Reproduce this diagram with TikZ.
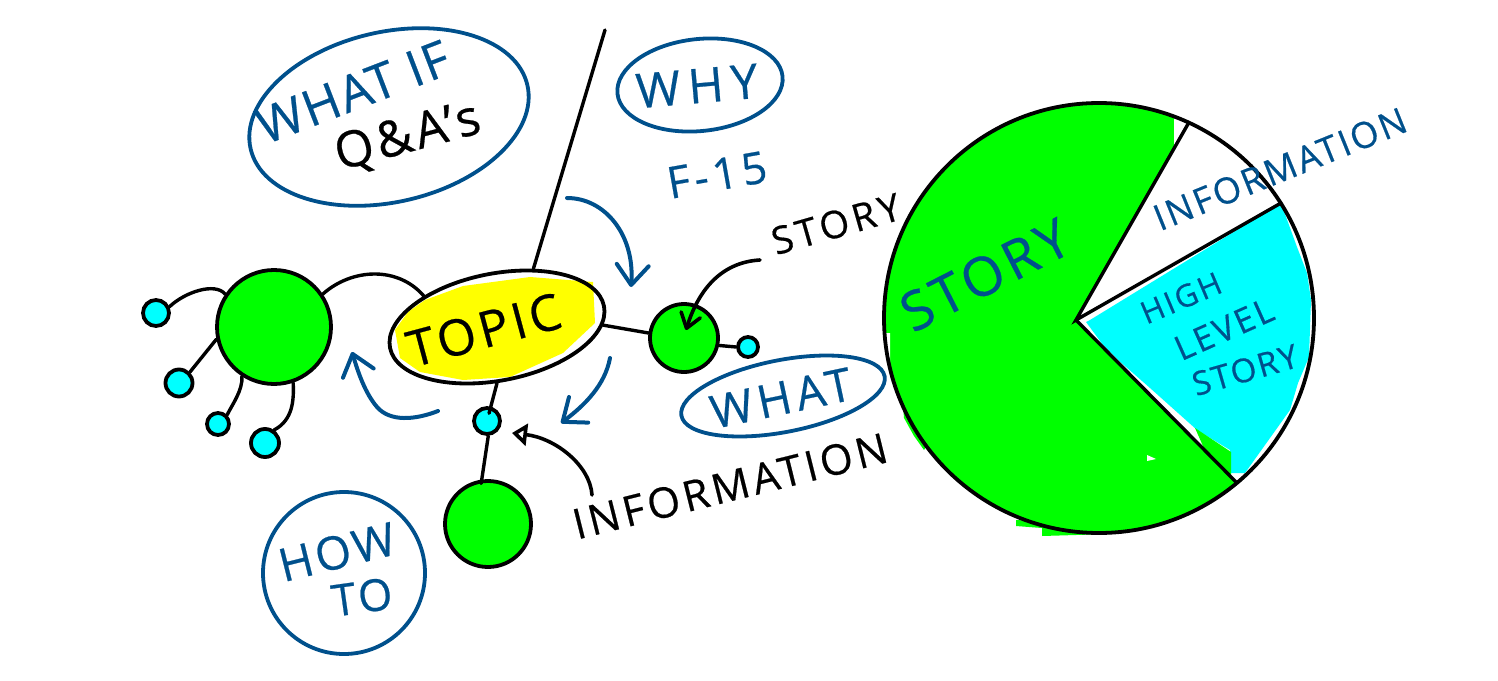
\documentclass[tikz,border=0pt]{standalone}
\usepackage{fontspec}
\setmainfont{Open Sans}
\usetikzlibrary{shapes.geometric,arrows.meta}
\definecolor{inkblue}{HTML}{00508C}
\definecolor{pgreen}{HTML}{00FF00}
\definecolor{pcyan}{HTML}{00FFFF}
\definecolor{pyellow}{HTML}{FFFF00}
\newcommand{\handfont}[2]{\fontsize{#1}{#1}\selectfont\addfontfeature{LetterSpace=#2,FakeBold=0.5}}
\tikzset{
  outline/.style={draw=#1,line width=3.8pt,shape=ellipse,inner sep=0pt},
  bigdot/.style={circle,draw=black,line width=3.8pt,fill=pgreen,inner sep=0pt,minimum size=#1},
  smalldot/.style={circle,draw=black,line width=3.8pt,fill=pcyan,inner sep=0pt,minimum size=#1},
  wire/.style={draw=black,line width=3.4pt,line cap=round},
  pointer/.style={draw=black,line width=3.6pt,line cap=round},
  flow/.style={draw=inkblue,line width=4pt,line cap=round,-{Straight Barb[round,length=20pt,width=32pt]}},
  hand/.style={inner sep=0pt,text=#1},
}
\begin{document}
\begin{tikzpicture}[x=1pt,y=-1pt]
\useasboundingbox (0,0) rectangle (1498,680);
% pie
\coordinate (pc) at (1076,320);
\coordinate (pa) at (1188,124);
\coordinate (pb) at (1281,203);
\coordinate (pd) at (1236,482);
\fill[pgreen] (1099,318) circle[radius=214];
\fill[pgreen] (1016,520) -- (1016,526) -- (1042,528) -- (1042,536) -- (1110,534) -- (1110,525) -- cycle;
\fill[pgreen] (903,405) -- (904,418) -- (914,436) -- (924,450) -- (930,440) -- cycle;
\fill[white] (pc) -- (pa) -- (1190,95) -- (1330,95) -- (1330,490) -- (pd) -- cycle;
\fill[white] (1174,100) -- (1190,100) -- (pa) -- (1175,147) -- (1174,147) -- cycle;
\fill[pcyan] (1090,320) -- (pb) -- (1297,247) -- (1307,273) -- (1311,300) -- (1309,357) -- (1298,383) -- (1290,410) -- (1245,473) -- (1231,473) -- (1230,450) -- (1197,430) -- (1150,388) -- (1118,360) -- (1103,345) -- (1086,322) -- cycle;
\fill[pgreen] (1195,428) -- (1231,452) -- (1231,486) -- (1210,462) -- cycle;
\fill[white] (1147,455) -- (1156,459) -- (1147,461) -- cycle;
\fill[white] (880,333) -- (890,333) -- (890,376) -- (884,376) -- cycle;
\node[circle,draw=black,line width=3.8pt,inner sep=0pt,minimum size=430pt] (pie) at (1099,318) {};
\draw[wire] (pa) -- (pc) -- (pb);
\draw[wire] (pc) -- (pd);
\node[hand=inkblue,rotate=27] (tstory) at (985,275) {\handfont{54}{8}STORY};
\node[hand=inkblue,rotate=22] (tinfo) at (1280,169) {\handfont{36}{7}INFORMATION};
\node[hand=inkblue,rotate=23] (thigh) at (1181,298) {\handfont{31}{8}HIGH};
\node[hand=inkblue,rotate=24] (tlevel) at (1224,329) {\handfont{34}{8}LEVEL};
\node[hand=inkblue,rotate=16] (tstory2) at (1245,370) {\handfont{33}{6}STORY};
% what if
\node[outline=inkblue,rotate=13,minimum width=284pt,minimum height=170pt] (whatif) at (389,117) {};
\node[hand=inkblue,rotate=21] (twhatif) at (353,92) {\handfont{50}{4}WHAT IF};
\node[hand=black,rotate=15] (tqa) at (408,138) {\handfont{50}{7}Q\&A's};
% why
\node[outline=inkblue,rotate=6,minimum width=166pt,minimum height=92pt] (why) at (700,85) {};
\node[hand=inkblue,rotate=5] (twhy) at (697,86) {\handfont{48}{16}WHY};
\node[hand=inkblue,rotate=10] (tf) at (717,175) {\handfont{44}{10}F-15};
% topic
\fill[pyellow] (395,330) -- (408,312) -- (425,300) -- (463,286) -- (530,277) -- (593,282) -- (595,323) -- (563,353) -- (510,377) -- (463,380) -- (420,372) -- (400,358) -- cycle;
\node[outline=black,rotate=11,minimum width=218pt,minimum height=107pt] (topic) at (497,327) {};
\node[hand=black,rotate=15] (ttopic) at (484,330) {\handfont{50}{8}TOPIC};
\coordinate (top) at (605,30);
\draw[wire] (top) -- (topic.47);
% left cluster
\node[bigdot=114pt] (gl) at (274,327) {};
\node[smalldot=26pt] (c1) at (156,313) {};
\node[smalldot=27pt] (c2) at (179,383) {};
\node[smalldot=22pt] (c3) at (218,424) {};
\node[smalldot=28pt] (c4) at (265,443) {};
\draw[wire] (c1.25) .. controls (185,292) and (215,282) .. (gl.146);
\draw[wire] (c2.45) -- (gl.192);
\draw[wire] (c3.45) .. controls (232,405) and (243,390) .. (gl.237);
\draw[wire] (c4.55) .. controls (293,420) and (294,400) .. (gl.-71);
\draw[wire] (gl.34) .. controls (352,268) and (398,266) .. (topic.146);
% right cluster
\node[bigdot=68pt] (gr) at (684,338) {};
\node[smalldot=20pt] (cr) at (748,347) {};
\draw[wire] (topic.-10) -- (gr.172);
\draw[wire] (gr.-12) -- (cr.180);
% bottom cluster
\node[smalldot=26pt] (cb) at (487,421) {};
\node[bigdot=86pt] (gb) at (488,524) {};
\draw[wire,shorten >=8pt] (topic.-101) -- (cb.center);
\draw[wire,shorten >=-4pt] (cb.-85) -- (gb.98);
% blue arrows
\coordinate (a1s) at (567,198);
\coordinate (a1e) at (631,287);
\coordinate (a2s) at (610,358);
\coordinate (a2e) at (561,423);
\coordinate (a3s) at (438,411);
\coordinate (a3e) at (352,352);
\draw[flow] (a1s) .. controls (605,198) and (635,235) .. (a1e);
\draw[flow] (a2s) .. controls (605,385) and (585,405) .. (a2e);
\draw[flow] (a3s) .. controls (415,420) and (390,422) .. (377,407) .. controls (365,393) and (358,372) .. (a3e);
% labels
\node[hand=black,rotate=16] (tls) at (836,224) {\handfont{38}{11}STORY};
\coordinate (p1s) at (760,260);
\coordinate (p1e) at (686,330);
\draw[pointer,-{Straight Barb[round,length=14pt,width=20pt]}] (p1s) .. controls (725,262) and (700,285) .. (p1e);
\node[hand=black,rotate=14] (tinf) at (730,486) {\handfont{42}{9}INFORMATION};
\coordinate (p2s) at (592,495);
\coordinate (p2e) at (512,433);
\draw[pointer,-{Triangle[open,length=15pt,width=22pt]}] (p2s) .. controls (590,465) and (555,438) .. (p2e);
% what
\node[outline=inkblue,rotate=11,minimum width=207pt,minimum height=72pt] (what) at (783,396) {};
\node[hand=inkblue,rotate=12] (twhat) at (781,398) {\handfont{46}{11}WHAT};
% how to
\node[outline=inkblue,circle,minimum size=162pt] (howto) at (344,573) {};
\node[hand=inkblue,rotate=14] (thow) at (337,552) {\handfont{46}{7}HOW};
\node[hand=inkblue,rotate=8] (tto) at (362,597) {\handfont{44}{7}TO};
\end{tikzpicture}
\end{document}
